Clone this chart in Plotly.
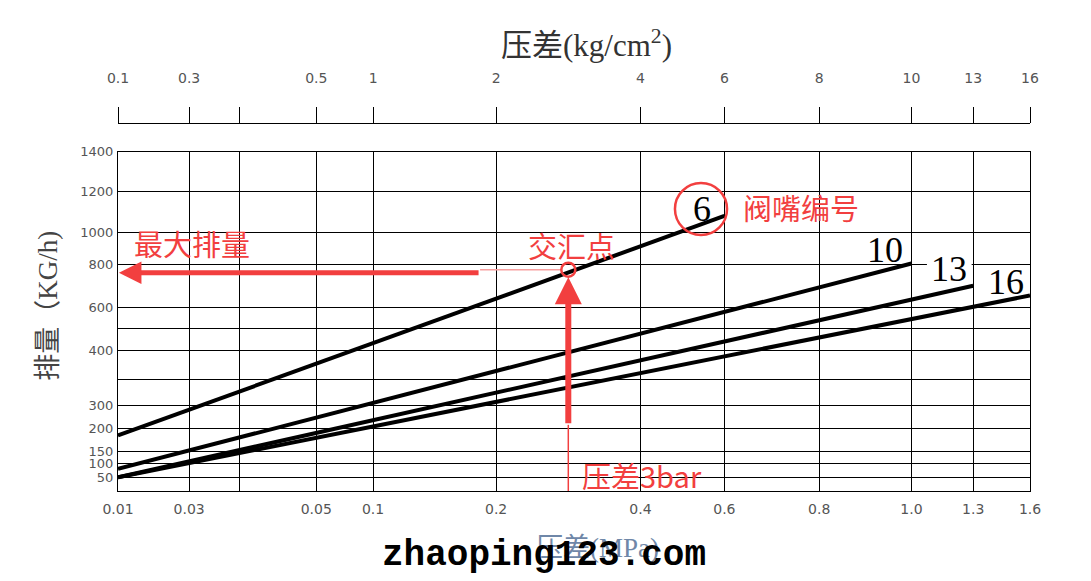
import numpy as np
import plotly.graph_objects as go

# ---------------- data ----------------
PRESSURE_MPA = [0.01, 0.03, 0.04, 0.05, 0.1, 0.2, 0.4, 0.6, 0.8, 1.0, 1.3, 1.6]
LABELS_MPA = ["0.01", "0.03", "", "0.05", "0.1", "0.2", "0.4", "0.6", "0.8", "1.0", "1.3", "1.6"]
LABELS_KGCM2 = ["0.1", "0.3", "", "0.5", "1", "2", "4", "6", "8", "10", "13", "16"]

FLOW_TICKS = [50, 100, 150, 200, 300, 350, 400, 500, 600, 800, 1000, 1200, 1400]
FLOW_LABELS = ["50", "100", "150", "200", "300", "", "400", "", "600", "800", "1000", "1200", "1400"]

NOZZLES = ["6", "10", "13", "16"]
P_START = [0.01, 0.01, 0.01, 0.01]
P_END = [0.6, 1.0, 1.3, 1.6]
Q_START = [185, 80, 50, 50]
Q_END = [1080, 805, 700, 655]

OP_PRESSURE = 0.3     # MPa (3 bar)
OP_FLOW = 775         # kg/h

# ---------------- irregular graduations of the printed chart (0..100 scale) ----------------
X_GRAD = [0, 7.80, 13.29, 21.74, 27.97, 41.46, 57.29, 66.49, 76.89, 87.0, 93.77, 100]
Y_GRAD = [4.04, 8.16, 11.70, 18.36, 25.26, 32.92, 41.47, 47.95, 54.14, 66.81, 76.24, 88.33, 100]


def xmap(p):
    return float(np.interp(p, PRESSURE_MPA, X_GRAD))


def ymap(q):
    return float(np.interp(q, FLOW_TICKS, Y_GRAD))


RED = "#f23f3f"
SERIF = "Liberation Serif, Noto Sans CJK SC, serif"
CJK = "Noto Sans CJK SC, sans-serif"
TICKFONT = dict(family="DejaVu Sans, sans-serif", size=14, color="#555555")
YTICKFONT = dict(family="DejaVu Sans, sans-serif", size=13, color="#555555")

fig = go.Figure()

for name, p0, p1, q0, q1 in zip(NOZZLES, P_START, P_END, Q_START, Q_END):
    fig.add_trace(go.Scatter(
        x=[xmap(p0), xmap(p1)], y=[ymap(q0), ymap(q1)],
        mode="lines", line=dict(color="black", width=4),
        name=name, showlegend=False, hoverinfo="skip"))

# invisible trace so the top axis is rendered
fig.add_trace(go.Scatter(x=[0, 100], y=[0, 0], xaxis="x2", mode="lines",
                         line=dict(width=0), showlegend=False, hoverinfo="skip"))

xo, yo = xmap(OP_PRESSURE), ymap(OP_FLOW)
H_SPLIT = 39.7   # where the horizontal arrow becomes thick (scale units)
V_SPLIT = 19.5   # where the vertical arrow becomes thick (scale units)

# gap in the 800 grid line behind label "13"
fig.add_shape(type="line", x0=88.7, x1=93.6, y0=ymap(800), y1=ymap(800),
              line=dict(color="white", width=3), layer="above")

# red arrows: thin start segments then thick arrows
fig.add_shape(type="line", x0=xo - 0.8, x1=H_SPLIT, y0=yo, y1=yo,
              line=dict(color="#f7a0a0", width=1.5))
fig.add_shape(type="line", x0=xo, x1=xo, y0=0, y1=V_SPLIT,
              line=dict(color=RED, width=1.5))
fig.add_annotation(x=0.1, y=yo - 0.9, ax=H_SPLIT, ay=yo - 0.9, xref="x", yref="y",
                   axref="x", ayref="y", text="", showarrow=True, arrowhead=2,
                   arrowsize=0.9, arrowwidth=5, arrowcolor=RED, standoff=0)
fig.add_annotation(x=xo, y=yo - 2.2, ax=xo, ay=V_SPLIT, xref="x", yref="y",
                   axref="x", ayref="y", text="", showarrow=True, arrowhead=2,
                   arrowsize=0.9, arrowwidth=6, arrowcolor=RED, standoff=0)
fig.add_shape(type="circle", xref="x", yref="y", xsizemode="pixel", ysizemode="pixel",
              xanchor=xo, yanchor=yo, x0=-7, x1=7, y0=-7, y1=7,
              line=dict(color=RED, width=2.5))

# circle around nozzle "6"
fig.add_shape(type="circle", xref="paper", yref="paper",
              x0=0.6107, x1=0.6678, y0=0.6957, y1=0.837,
              line=dict(color=RED, width=2.5))

# nozzle labels at line ends
shifts = {"6": (-22, 7), "10": (-26, 14), "13": (-24, 17), "16": (-24, 13)}
for name, p1, q1 in zip(NOZZLES, P_END, Q_END):
    dx, dy = shifts[name]
    fig.add_annotation(x=xmap(p1), y=ymap(q1), xref="x", yref="y", text=name,
                       showarrow=False, xshift=dx, yshift=dy,
                       xanchor="center", yanchor="middle",
                       font=dict(family=SERIF, size=36, color="black"))

# red explanatory texts
red_texts = [
    ("最大排量", 0.0811, 0.6739),
    ("交汇点", 0.4978, 0.6685),
    ("阀嘴编号", 0.7489, 0.7717),
    ("压差3bar", 0.5746, 0.0435),
]
for t, px, py in red_texts:
    fig.add_annotation(x=px, y=py, xref="paper", yref="paper", text=t, showarrow=False,
                       xanchor="center", yanchor="middle",
                       font=dict(family=CJK, size=29, color=RED))

# titles
fig.add_annotation(x=0.514, y=1.217, xref="paper", yref="paper",
                   text="压差(kg/cm<sup>2</sup>)", showarrow=False,
                   xanchor="center", yanchor="middle",
                   font=dict(family=SERIF, size=31, color="#333333"))
fig.add_annotation(x=-0.0768, y=0.503, xref="paper", yref="paper",
                   text="排量（KG/h)", textangle=-90, showarrow=False,
                   xanchor="center", yanchor="middle",
                   font=dict(family=SERIF, size=27, color="#444444"))
fig.add_annotation(x=0.526, y=-0.155, xref="paper", yref="paper",
                   text="压差(MPa)", showarrow=False,
                   xanchor="center", yanchor="middle",
                   font=dict(family=SERIF, size=27, color="#6f87a8"))
fig.add_annotation(x=0.467, y=-0.174, xref="paper", yref="paper",
                   text="<b>zhaoping123.com</b>", showarrow=False,
                   xanchor="center", yanchor="middle",
                   font=dict(family="Liberation Mono, monospace", size=36, color="black"))

fig.update_layout(
    width=1083, height=573,
    margin=dict(l=110, r=61, t=115, b=90),
    paper_bgcolor="white", plot_bgcolor="white",
    xaxis=dict(range=[0, 100], tickvals=X_GRAD, ticktext=LABELS_MPA,
               showgrid=True, gridcolor="black", gridwidth=1,
               showline=True, linecolor="black", linewidth=1, mirror=True,
               ticks="", tickfont=TICKFONT, ticklabelstandoff=5, zeroline=False),
    xaxis2=dict(range=[0, 100], tickvals=X_GRAD, ticktext=LABELS_KGCM2,
                overlaying="x", side="top", anchor="free", position=1,
                showgrid=False, showline=True, linecolor="black", linewidth=1.2,
                ticks="outside", ticklen=16, tickcolor="black", tickwidth=1,
                tickfont=TICKFONT, ticklabelstandoff=18, zeroline=False),
    yaxis=dict(range=[0, 100], domain=[0, 0.922], tickvals=Y_GRAD, ticktext=FLOW_LABELS,
               showgrid=True, gridcolor="black", gridwidth=1,
               showline=True, linecolor="black", linewidth=1, mirror=True,
               ticks="", tickfont=YTICKFONT, ticklabelstandoff=1, zeroline=False),
)

fig.write_html("out.html")
